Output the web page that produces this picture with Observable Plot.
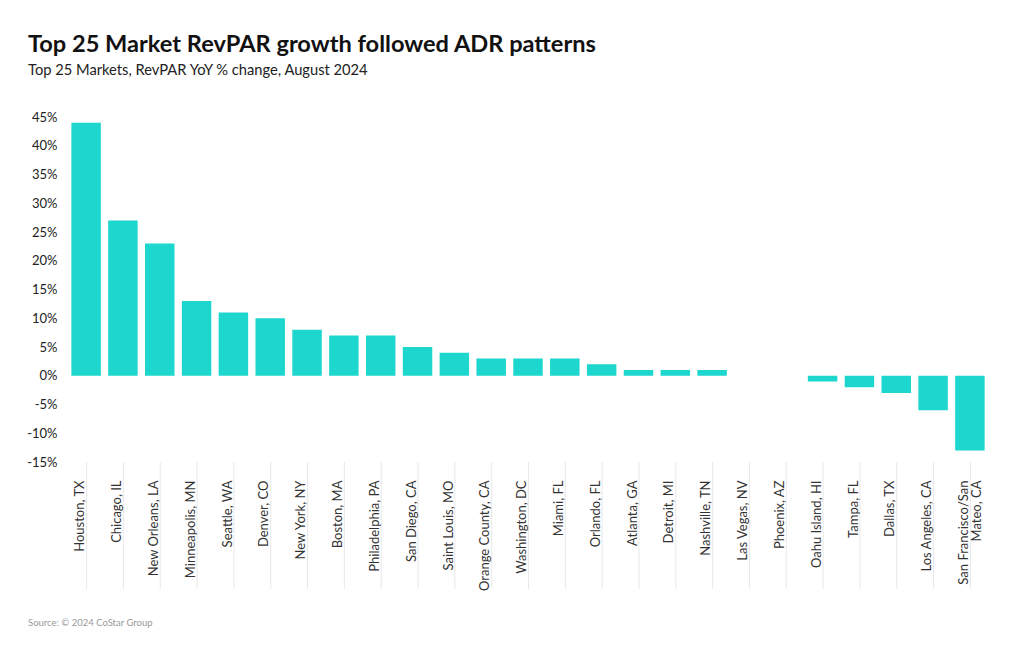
<!DOCTYPE html>
<html><head><meta charset="utf-8">
<script src="https://cdn.jsdelivr.net/npm/d3@7"></script>
<script src="https://cdn.jsdelivr.net/npm/@observablehq/plot@0.6"></script>
<style>
body{margin:0;background:#fff;font-family:Lato,"Noto Sans",sans-serif;}
#wrap{position:relative;width:1020px;height:650px;overflow:hidden;}
#title{position:absolute;left:28px;top:28px;font-size:23.6px;font-weight:700;color:#111;line-height:30px;white-space:nowrap;}
#subtitle{position:absolute;left:28px;top:59px;font-size:14.7px;color:#222;line-height:20px;white-space:nowrap;}
#chart{position:absolute;left:0;top:90px;}
#source{position:absolute;left:28px;top:616px;font-size:9.5px;color:#999;line-height:14px;white-space:nowrap;}
</style></head>
<body>
<div id="wrap">
  <div id="title">Top 25 Market RevPAR growth followed ADR patterns</div>
  <div id="subtitle">Top 25 Markets, RevPAR YoY % change, August 2024</div>
  <div id="chart"></div>
  <div id="source">Source: © 2024 CoStar Group</div>
</div>
<script>
const markets = [
  "Houston, TX","Chicago, IL","New Orleans, LA","Minneapolis, MN","Seattle, WA",
  "Denver, CO","New York, NY","Boston, MA","Philadelphia, PA","San Diego, CA",
  "Saint Louis, MO","Orange County, CA","Washington, DC","Miami, FL","Orlando, FL",
  "Atlanta, GA","Detroit, MI","Nashville, TN","Las Vegas, NV","Phoenix, AZ",
  "Oahu Island, HI","Tampa, FL","Dallas, TX","Los Angeles, CA","San Francisco/San\nMateo, CA"
];
const revparChange = [44,27,23,13,11,10,8,7,7,5,4,3,3,3,2,1,1,1,0,0,-1,-2,-3,-6,-13];
const yTicks = [-15,-10,-5,0,5,10,15,20,25,30,35,40,45];

const data = markets.map((m, i) => ({market: m, value: revparChange[i]}));

const chart = Plot.plot({
  width: 1020,
  height: 510,
  marginTop: 27,
  marginBottom: 138,
  marginLeft: 64,
  marginRight: 28,
  style: {fontFamily: "Lato, 'Noto Sans', sans-serif", fontSize: "13px", color: "#333", background: "transparent"},
  x: {domain: markets, padding: 0.2, round: false, label: null},
  y: {domain: [-15, 45], label: null},
  marks: [
    Plot.axisY({ticks: yTicks, tickFormat: d => d + "%", tickSize: 0, tickPadding: 7, label: null, fill: "#222"}),
    Plot.axisX({tickSize: 127, tickFormat: () => "", stroke: "#e8e8e8", label: null}),
    Plot.axisX({tickSize: 0, tickPadding: 18, tickRotate: -90, textAnchor: "end", lineAnchor: "middle",
      tickFormat: d => d.includes("\n") ? d : d + "\n", label: null, fill: "#333"}),
    Plot.barY(data, {x: "market", y: "value", fill: "#1dd6cd"})
  ]
});
document.getElementById("chart").appendChild(chart);
</script>
</body></html>
